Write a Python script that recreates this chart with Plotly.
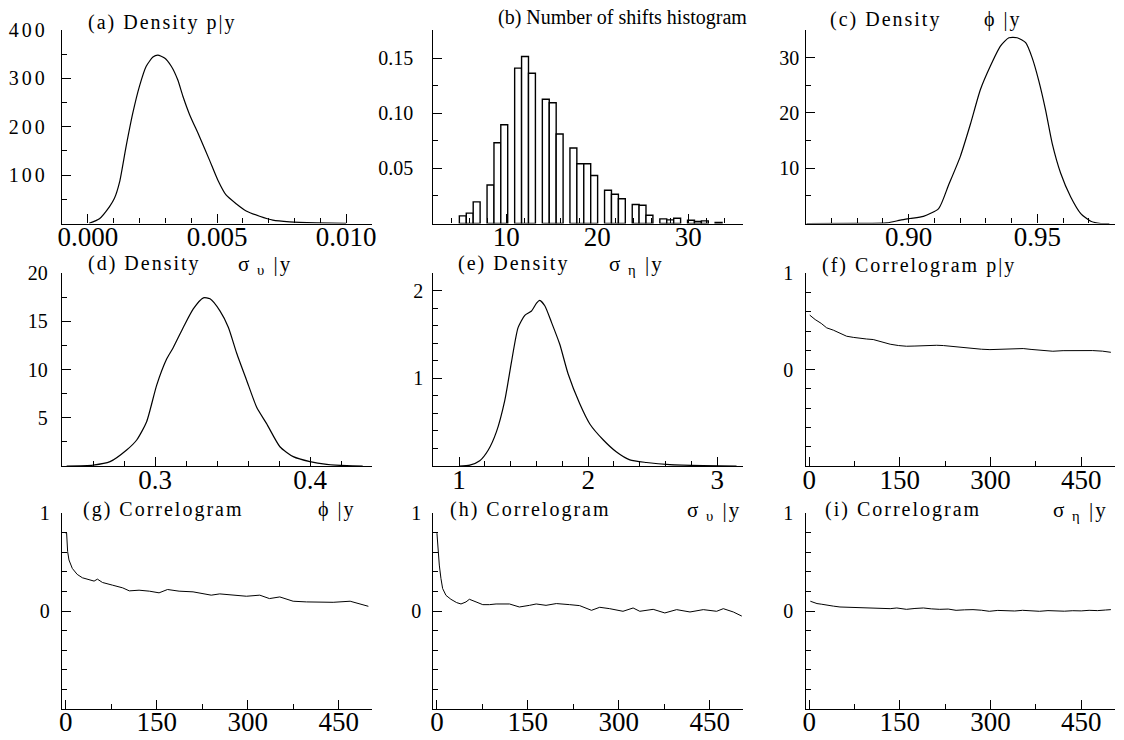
import plotly.graph_objects as go

# ---------------- data ----------------
# (a) density of p|y
a_x = [0.00005, 0.00045, 0.00084, 0.00103, 0.00123, 0.00148, 0.00174, 0.0020, 0.00226, 0.00252,
       0.00271, 0.00297, 0.00323, 0.00348, 0.00368, 0.00394, 0.00432, 0.00471, 0.00503, 0.00535,
       0.00574, 0.00613, 0.00665, 0.00716, 0.00781, 0.00884, 0.0100]
a_y = [0.5, 10, 35, 52, 86, 159, 228, 284, 325, 344,
       348, 342, 325, 297, 263, 225, 180, 131, 90, 59,
       41, 26, 15, 7, 3.5, 1.4, 0.3]

# (b) number of shifts histogram (bin centres, relative frequencies)
b_x = [5.24, 6.00, 6.76, 8.28, 9.04, 9.79, 11.31, 12.07, 12.83, 14.35, 15.11, 15.87, 17.38, 18.14,
       18.90, 19.66, 21.18, 21.94, 22.70, 24.22, 24.97, 25.73, 27.25, 28.01, 28.77, 30.29, 31.05,
       31.81, 33.32]
b_y = [0.0069, 0.0094, 0.0196, 0.035, 0.0733, 0.0896, 0.141, 0.1515, 0.1364, 0.1127, 0.1096, 0.0812,
       0.0685, 0.0542, 0.0542, 0.0436, 0.0302, 0.0266, 0.0224, 0.0172, 0.0166, 0.0075, 0.0042, 0.0033,
       0.0048, 0.003, 0.0018, 0.0024, 0.001]

# (c) density of phi|y
c_x = [0.8604, 0.880, 0.8916, 0.8968, 0.9006, 0.9058, 0.9117, 0.9156, 0.9201, 0.924, 0.9279, 0.9318,
       0.9357, 0.939, 0.9422, 0.9455, 0.948, 0.9506, 0.9532, 0.9558, 0.9591, 0.963, 0.9669, 0.9708,
       0.9747, 0.978]
c_y = [0.0, 0.02, 0.1, 0.6, 0.9, 1.3, 2.7, 7.0, 12.1, 17.9, 24.2, 28.5,
       32.1, 33.6, 33.6, 32.7, 30.0, 25.8, 20.6, 14.5, 9.1, 4.8, 1.8, 0.4,
       0.0, 0.0]

# (d) density of sigma_upsilon|y
d_x = [0.243, 0.2602, 0.271, 0.2817, 0.2882, 0.2946, 0.3011, 0.3075, 0.3118, 0.3183, 0.3247, 0.3312,
       0.3355, 0.3419, 0.3473, 0.3527, 0.3591, 0.3656, 0.372, 0.3806, 0.3892, 0.40, 0.4108, 0.4237,
       0.434]
d_y = [0.0, 0.1, 0.45, 1.66, 2.7, 4.6, 8.4, 11.1, 12.3, 14.4, 16.3, 17.45,
       17.35, 16.1, 14.4, 11.7, 8.9, 6.1, 4.4, 2.0, 0.97, 0.45, 0.17, 0.03,
       0.0]

# (e) density of sigma_eta|y
e_x = [1.0, 1.083, 1.16, 1.225, 1.289, 1.354, 1.406, 1.457, 1.509, 1.561, 1.60, 1.625, 1.664, 1.716,
       1.78, 1.845, 1.935, 2.013, 2.116, 2.22, 2.323, 2.452, 2.633, 2.89, 3.15]
e_y = [0.0, 0.01, 0.06, 0.18, 0.39, 0.75, 1.19, 1.58, 1.72, 1.77, 1.86, 1.89, 1.83, 1.64,
       1.39, 1.05, 0.71, 0.48, 0.30, 0.16, 0.07, 0.04, 0.015, 0.004, 0.0]

# (f) correlogram p|y
f_lag = [1, 10, 20, 29, 40, 51, 62, 73, 84, 95, 106, 120, 134, 148, 161, 175, 189, 200, 211, 222,
         233, 250, 271, 285, 299, 312, 326, 340, 354, 367, 381, 392, 403, 420, 436, 452, 469, 485, 499]
f_acf = [0.566, 0.52, 0.48, 0.434, 0.41, 0.382, 0.347, 0.335, 0.323, 0.318, 0.3125, 0.29, 0.264, 0.25,
         0.243, 0.245, 0.25, 0.255, 0.253, 0.25, 0.243, 0.23, 0.219, 0.212, 0.208, 0.21, 0.212, 0.215,
         0.219, 0.21, 0.201, 0.196, 0.191, 0.197, 0.198, 0.195, 0.198, 0.192, 0.18]

# (g) correlogram phi|y
g_lag = [0, 1.6, 3.3, 5.5, 11, 19, 27.6, 38.6, 46.9, 52.4, 60.7, 77, 94, 105, 121, 138, 154, 168,
         187, 210, 226, 240, 254, 276, 298, 320, 336, 353, 375, 397, 419, 441, 469, 485, 499]
g_acf = [0.797, 0.797, 0.608, 0.522, 0.436, 0.375, 0.34, 0.323, 0.306, 0.326, 0.292, 0.265, 0.237,
         0.206, 0.213, 0.203, 0.186, 0.22, 0.203, 0.196, 0.179, 0.162, 0.175, 0.162, 0.151, 0.162,
         0.127, 0.144, 0.10, 0.093, 0.093, 0.089, 0.10, 0.076, 0.048]

# (h) correlogram sigma_upsilon|y
h_lag = [0, 1.7, 3.9, 6.6, 9.4, 14.9, 23, 32.5, 39.7, 48, 53.5, 64.5, 75.6, 86.6, 97.6, 119.7, 136,
         152.8, 163.8, 180, 197, 219, 235.5, 255, 268.6, 285, 307, 323.7, 334.7, 356.8, 376, 395.5,
         417.5, 439.5, 461.5, 472.5, 489, 503]
h_acf = [0.797, 0.59, 0.47, 0.333, 0.23, 0.16, 0.12, 0.086, 0.072, 0.093, 0.12, 0.093, 0.065, 0.065,
         0.072, 0.072, 0.041, 0.058, 0.072, 0.058, 0.076, 0.065, 0.055, 0.007, 0.038, 0.024, -0.003,
         0.031, -0.003, 0.017, -0.02, 0.014, -0.01, 0.014, -0.003, 0.024, -0.01, -0.052]

# (i) correlogram sigma_eta|y
i_lag = [2, 8, 13, 20, 29, 40, 51, 65, 79, 92, 106, 120, 134, 145, 155, 161, 175, 189, 202, 216,
         230, 243, 257, 271, 285, 298, 312, 326, 340, 353, 367, 381, 395, 408, 422, 436, 450, 463,
         477, 490, 499]
i_acf = [0.10, 0.085, 0.076, 0.07, 0.058, 0.05, 0.041, 0.038, 0.034, 0.036, 0.031, 0.028, 0.024,
         0.031, 0.022, 0.017, 0.026, 0.031, 0.022, 0.017, 0.02, 0.007, 0.012, 0.014, 0.008, -0.003,
         0.006, 0.003, 0.0, 0.007, 0.002, -0.003, 0.004, 0.0, -0.002, 0.003, 0.001, 0.007, 0.004,
         0.01, 0.014]

# ---------------- layout helpers ----------------
W, H = 1124, 740
COLS = [(62, 372), (433.3, 743), (805.5, 1114.5)]
ROWS = [(30, 223.5), (273.3, 466), (513.3, 708.7)]
SERIF = "Liberation Serif"


def xdom(c):
    return [COLS[c][0] / W, COLS[c][1] / W]


def ydom(r):
    return [1 - ROWS[r][1] / H, 1 - ROWS[r][0] / H]


def axis(dom, rng, tickvals, fmt, mdtick, anchor, is_x, standoff):
    return dict(
        domain=dom, range=rng, anchor=anchor, automargin=False,
        showline=True, linecolor="black", linewidth=1.3,
        ticks="inside", ticklen=9, tickwidth=1.2, tickcolor="black",
        tickmode="array", tickvals=tickvals, tickformat=fmt,
        tickfont=dict(family=SERIF, size=27 if is_x else 20, color="black"),
        ticklabelstandoff=standoff,
        showgrid=False, zeroline=False, fixedrange=True,
        minor=dict(ticks="inside", ticklen=5, tickwidth=1, tickcolor="black",
                   tickmode="linear", tick0=0, dtick=mdtick, showgrid=False),
    )


fig = go.Figure()
layout = dict(template="none", width=W, height=H, margin=dict(l=0, r=0, t=0, b=0, pad=0),
              paper_bgcolor="white", plot_bgcolor="white", showlegend=False)

# panel specs: (row, col, xrange, xticks, xfmt, xminor, yrange, yticks, yfmt, yminor, ylabel standoff)
specs = [
    (0, 0, [-0.001, 0.011], [0.0, 0.005, 0.01], ".3f", 0.001, [0, 400], [100, 200, 300, 400], "d", 50, 9),
    (0, 1, [2, 36], [10, 20, 30], "d", 2, [0, 0.1756], [0.05, 0.10, 0.15], ".2f", 0.025, 15),
    (0, 2, [0.86, 0.98], [0.90, 0.95], ".2f", 0.01, [0, 35], [10, 20, 30], "d", 5, 1),
    (1, 0, [0.24, 0.44], [0.3, 0.4], ".1f", 0.02, [0, 20], [5, 10, 15, 20], "d", 2.5, 9),
    (1, 1, [0.8, 3.2], [1, 2, 3], "d", 0.2, [0, 2.2], [1, 2], "d", 0.2, 5),
    (1, 2, [-6, 505], [0, 150, 300, 450], "d", 75, [-1, 1], [0, 1], "d", 0.2, 7),
    (2, 0, [-6, 505], [0, 150, 300, 450], "d", 75, [-1, 1], [0, 1], "d", 0.2, 7),
    (2, 1, [-6, 505], [0, 150, 300, 450], "d", 75, [-1, 1], [0, 1], "d", 0.2, 7),
    (2, 2, [-6, 505], [0, 150, 300, 450], "d", 75, [-1, 1], [0, 1], "d", 0.2, 7),
]

for k, (r, c, xr, xt, xf, xm, yr, yt, yf, ym, yso) in enumerate(specs, start=1):
    sx = "" if k == 1 else str(k)
    layout["xaxis" + sx] = axis(xdom(c), xr, xt, xf, xm, "y" + sx, True, -11)
    layout["yaxis" + sx] = axis(ydom(r), yr, yt, yf, ym, "x" + sx, False, yso)

dens = [(a_x, a_y, 1), (c_x, c_y, 3), (d_x, d_y, 4), (e_x, e_y, 5)]
for xs, ys, k in dens:
    sx = "" if k == 1 else str(k)
    fig.add_trace(go.Scatter(x=xs, y=ys, mode="lines", line=dict(color="black", width=1.2,
                                                                  shape="spline", smoothing=0.6),
                             xaxis="x" + sx, yaxis="y" + sx))

fig.add_trace(go.Bar(x=b_x, y=b_y, width=0.759, marker=dict(color="white",
                                                            line=dict(color="black", width=1.4)),
                     xaxis="x2", yaxis="y2"))

corr = [(f_lag, f_acf, 6), (g_lag, g_acf, 7), (h_lag, h_acf, 8), (i_lag, i_acf, 9)]
for xs, ys, k in corr:
    fig.add_trace(go.Scatter(x=xs, y=ys, mode="lines", line=dict(color="black", width=1.0),
                             xaxis="x" + str(k), yaxis="y" + str(k)))


# ---------------- titles ----------------
def ann(text, px, py, size=20):
    return dict(text=text, x=px / W, y=1 - py / H, xref="paper", yref="paper",
                xanchor="left", yanchor="middle", align="left", showarrow=False,
                font=dict(family=SERIF, size=size, color="black"))


annotations = [
    ann("(b) Number of shifts histogram", 496, 18),
    ann("(a) Density p|y", 86, 22),
    ann("(c) Density", 828, 20),
    ann("ϕ |y", 982, 20),
    ann("(d) Density", 86, 263),
    ann("σ<sub> υ</sub> |y", 236, 265, 21),
    ann("(e) Density", 456, 263),
    ann("σ<sub> η</sub> |y", 607, 265, 21),
    ann("(f) Correlogram p|y", 820, 265),
    ann("(g) Correlogram", 81, 509),
    ann("ϕ |y", 316, 509),
    ann("(h) Correlogram", 448, 509),
    ann("σ<sub> υ</sub> |y", 685, 511, 21),
    ann("(i) Correlogram", 823, 509),
    ann("σ<sub> η</sub> |y", 1051, 511, 21),
]
layout["annotations"] = annotations
fig.update_layout(**layout)

post = """
document.body.style.margin = '0';
document.body.style.padding = '0';
var gd = document.getElementById('{plot_id}');
function spaceText(){
  gd.querySelectorAll('g.annotation').forEach(function(g){
    if (g.getAttribute('data-index') !== '0') {
      g.querySelectorAll('text').forEach(function(t){ t.style.letterSpacing = '2px'; });
    }
  });
  gd.querySelectorAll('g.ytick text').forEach(function(t){ t.style.letterSpacing = '3px'; });
}
spaceText();
gd.on('plotly_afterplot', spaceText);
"""
fig.write_html("out.html", post_script=post, config={"displayModeBar": False})
